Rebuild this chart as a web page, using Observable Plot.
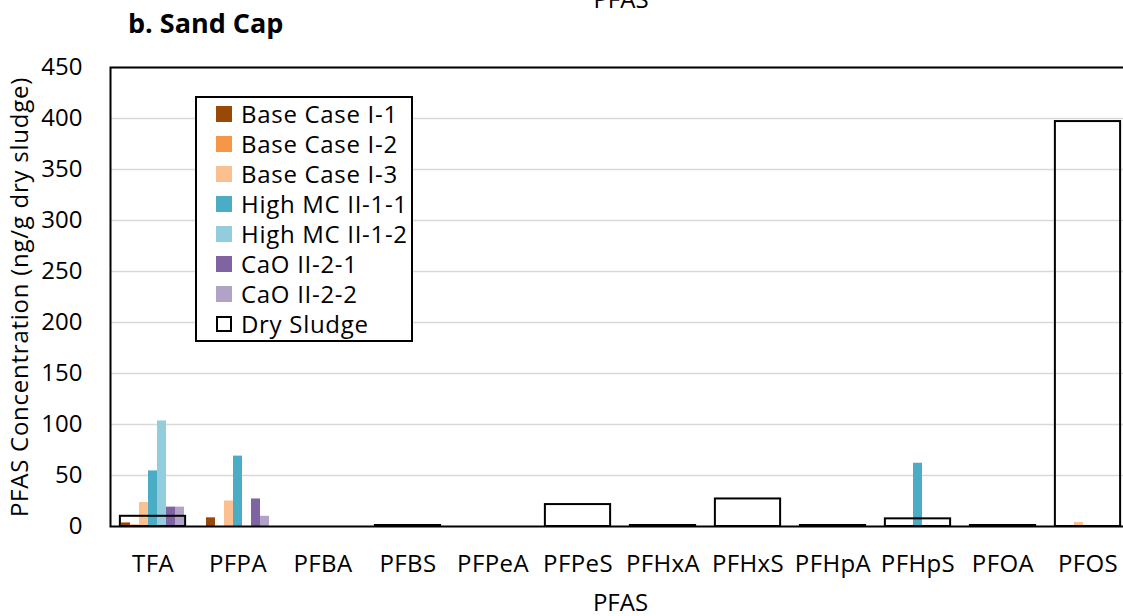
<!DOCTYPE html>
<html>
<head>
<meta charset="utf-8">
<script src="https://cdn.jsdelivr.net/npm/d3@7"></script>
<script src="https://cdn.jsdelivr.net/npm/@observablehq/plot@0.6"></script>
<style>
  html, body { margin: 0; padding: 0; background: #fff; overflow: hidden; }
  #wrap { position: relative; width: 1123px; height: 616px; overflow: hidden; font-family: "Open Sans", sans-serif; color: #000; }
  #wrap svg { position: absolute; left: 0; top: 0; max-width: none; }
  #wrap svg [aria-label="fx-axis tick label"] text { font-size: 24px; letter-spacing: 0.4px; }
  #wrap svg [aria-label="y-axis tick label"] text { font-size: 24px; }
  #wrap svg [aria-label="y-axis label"] text { font-size: 24px; letter-spacing: 0.75px; }
  #wrap svg [aria-label="fx-axis label"] text { font-size: 24px; }
  #above { position: absolute; left: 521px; width: 200px; top: -13px; text-align: center; font-size: 24px; line-height: 1; }
  #title { position: absolute; left: 128px; top: 9px; font-size: 27px; font-weight: 700; line-height: 1; }
  #legend { position: absolute; left: 195px; top: 96px; width: 218px; box-sizing: border-box; border: 2px solid #000; background: #fff; padding: 1px 0 1px 19px; }
  .row { height: 30px; display: flex; align-items: center; font-size: 24px; letter-spacing: 0.7px; line-height: 1; white-space: nowrap; }
  .sw { width: 16px; height: 16px; box-sizing: border-box; margin-right: 9px; flex: none; }
</style>
</head>
<body>
<div id="wrap">
  <div id="above">PFAS</div>
  <div id="title">b. Sand Cap</div>
</div>
<script>
// PFAS compounds along the x axis
const categories = ["TFA", "PFPA", "PFBA", "PFBS", "PFPeA", "PFPeS", "PFHxA", "PFHxS", "PFHpA", "PFHpS", "PFOA", "PFOS"];

// Treatment series drawn as grouped bars
const seriesNames = ["Base Case I-1", "Base Case I-2", "Base Case I-3", "High MC II-1-1", "High MC II-1-2", "CaO II-2-1", "CaO II-2-2"];
const seriesColors = ["#984807", "#F79646", "#FAC090", "#4BACC6", "#93CDDD", "#8064A2", "#B3A2C7"];

// Concentrations (ng/g dry sludge), one value per compound
const baseCaseI1   = [3.5, 8.5, 0, 0, 0, 0, 0, 0, 0, 0, 0, 0];
const baseCaseI2   = [1.5, 0, 0, 0, 0, 0, 0, 0, 0, 0, 0, 0];
const baseCaseI3   = [23.5, 25, 0, 0, 0, 0, 0, 0, 0, 0, 0, 4];
const highMC111    = [54.5, 69, 0, 0, 0, 0, 0, 0, 0, 62, 0, 0];
const highMC112    = [103.5, 0, 0, 0, 0, 0, 0, 0, 0, 0, 0, 0];
const caoII21      = [19, 27, 0, 0, 0, 0, 0, 0, 0, 0, 0, 0];
const caoII22      = [19, 10, 0, 0, 0, 0, 0, 0, 0, 0, 0, 0];
const seriesValues = [baseCaseI1, baseCaseI2, baseCaseI3, highMC111, highMC112, caoII21, caoII22];

// Reference dry sludge, drawn as an outlined bar behind each group
const drySludgeName = "Dry Sludge";
const drySludge    = [10, 0, 0, 1, 0, 21.5, 1, 27, 1, 7.5, 1, 397];

const yTicks = [0, 50, 100, 150, 200, 250, 300, 350, 400, 450];

const barRows = [];
seriesNames.forEach((s, si) => {
  seriesValues[si].forEach((v, ci) => barRows.push({cat: categories[ci], series: s, value: v}));
});
const sludgeRows = categories
  .map((c, i) => ({cat: c, value: drySludge[i]}))
  .filter(d => d.value > 0);

// Layout: groups sit edge to edge so gridlines run unbroken; the bars of a
// group fill the central share of it and the dry sludge outline matches them.
// The plot runs past the right edge of the page, as the panel is cropped there.
const W = 1145, H = 616, mL = 106, mR = 11, mT = 67, mB = 90;
const groupShare = 0.767;
const subPadOuter = (seriesNames.length / groupShare - seriesNames.length) / 2;
const groupWidth = (W - mL - mR - 10) / categories.length;
const sludgeInset = groupWidth * (1 - groupShare) / 2;

const chart = Plot.plot({
  width: W,
  height: H,
  marginTop: mT,
  marginBottom: mB,
  marginLeft: mL,
  marginRight: mR,
  style: {fontFamily: "Open Sans", fontSize: "23px", color: "#000", background: "transparent", overflow: "visible", maxWidth: "none"},
  fx: {
    domain: categories, padding: 0,
    axis: "bottom", tickSize: 0, tickPadding: 28,
    label: "PFAS", labelAnchor: "center", labelOffset: 84, labelArrow: "none"
  },
  x: {domain: seriesNames, paddingInner: 0, paddingOuter: subPadOuter, axis: null},
  y: {
    domain: [0, 450], ticks: yTicks, tickSize: 0, tickPadding: 28,
    label: "PFAS Concentration (ng/g dry sludge)", labelAnchor: "center", labelOffset: 100, labelArrow: "none"
  },
  color: {domain: seriesNames, range: seriesColors},
  marks: [
    Plot.ruleY(yTicks.slice(1), {stroke: "#d9d9d9", strokeWidth: 1.5}),
    Plot.barY(barRows, {fx: "cat", x: "series", y: "value", fill: "series"}),
    Plot.rectY(sludgeRows, {fx: "cat", y: "value", fill: "none", stroke: "#000", strokeWidth: 2,
      insetLeft: sludgeInset, insetRight: sludgeInset}),
    Plot.frame({facet: "super", stroke: "#000", strokeWidth: 2})
  ]
});
chart.style.maxWidth = "none";
document.getElementById("wrap").prepend(chart);

// Legend box listing every series, with the dry sludge outline last
const legend = document.createElement("div");
legend.id = "legend";
const entries = seriesNames.map((s, i) => ({name: s, color: seriesColors[i]}))
  .concat([{name: drySludgeName, color: null}]);
for (const e of entries) {
  const row = document.createElement("div");
  row.className = "row";
  const sw = document.createElement("span");
  sw.className = "sw";
  if (e.color) sw.style.background = e.color;
  else { sw.style.background = "#fff"; sw.style.border = "2px solid #000"; }
  row.appendChild(sw);
  row.appendChild(document.createTextNode(e.name));
  legend.appendChild(row);
}
document.getElementById("wrap").appendChild(legend);
</script>
</body>
</html>
